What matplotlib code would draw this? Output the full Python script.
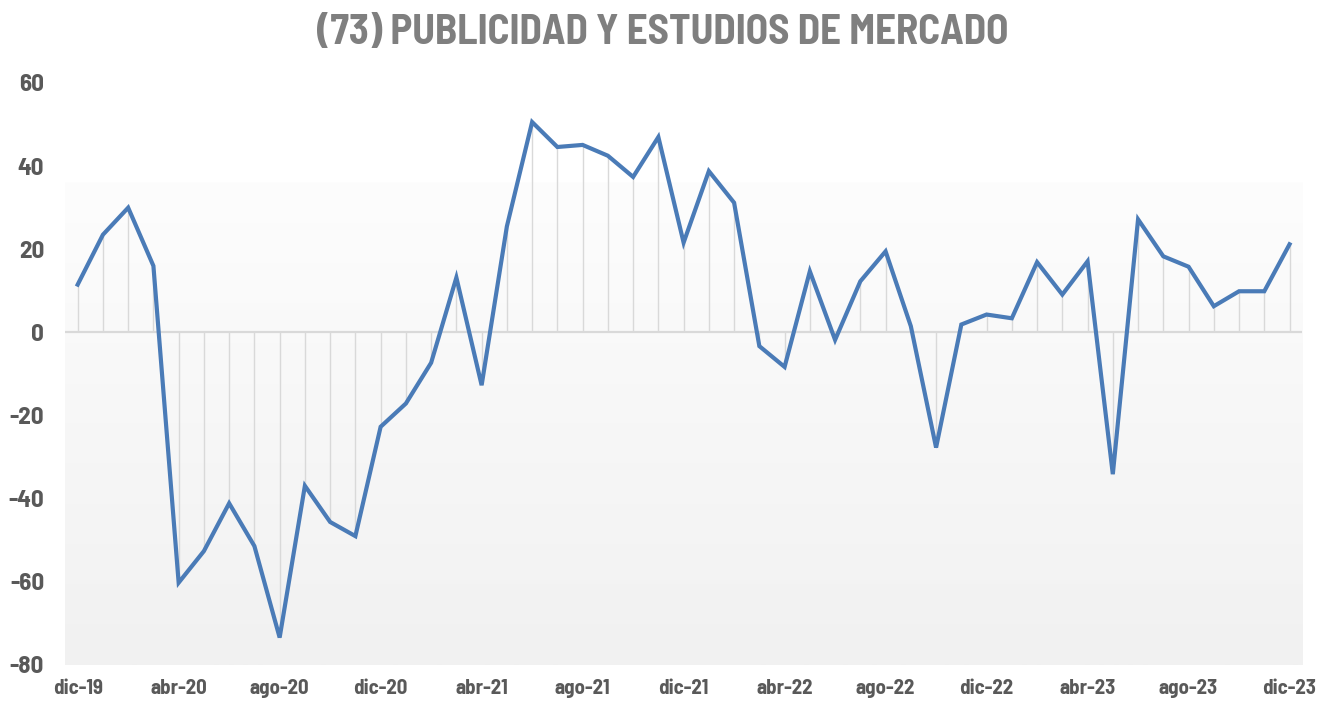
import numpy as np
import matplotlib
matplotlib.use("Agg")
import matplotlib.pyplot as plt
from matplotlib.colors import LinearSegmentedColormap

# ── data: monthly values, dic-19 .. dic-23 ─────────────────────────
values = [
    11.5, 23.5, 30.0, 16.0, -60.2, -52.6, -41.1, -51.4, -73.4, -36.9,
    -45.6, -49.0, -22.7, -17.1, -7.3, 13.2, -12.7, 25.5, 50.6, 44.6,
    45.1, 42.5, 37.4, 47.0, 21.6, 38.8, 31.2, -3.3, -8.3, 14.7,
    -1.8, 12.3, 19.5, 1.5, -27.7, 1.9, 4.3, 3.4, 16.9, 9.1,
    17.1, -34.1, 27.2, 18.3, 15.8, 6.3, 9.9, 9.9, 21.2,
]
tick_labels = ["dic-19", "abr-20", "ago-20", "dic-20", "abr-21", "ago-21",
               "dic-21", "abr-22", "ago-22", "dic-22", "abr-23", "ago-23", "dic-23"]
y_ticks = [60, 40, 20, 0, -20, -40, -60, -80]
title = "(73) PUBLICIDAD Y ESTUDIOS DE MERCADO"

# condensed bold face, close to Arial Narrow
FONT = ["Barlow Semi Condensed", "Archivo Narrow", "DejaVu Sans"]
plt.rcParams["font.family"] = FONT

x = np.arange(len(values))

fig = plt.figure(figsize=(13.22, 7.11), dpi=100)
ax = fig.add_axes([0.0492, 0.0647, 0.9358, 0.8186])
ax.set_xlim(-0.5, len(values) - 0.5)
ax.set_ylim(-80, 60)

# gradient background (white -> light gray)
cmap = LinearSegmentedColormap.from_list("bg", ["#fdfdfd", "#f1f1f1"])
grad = np.linspace(0, 1, 256).reshape(-1, 1)
ax.imshow(grad, cmap=cmap, aspect="auto", extent=(-0.5, len(values) - 0.5, -80, 36),
          origin="upper", zorder=0)

# drop lines + zero line
ax.vlines(x, 0, values, color="#d9d9d9", linewidth=1.0, zorder=1)
ax.axhline(0, color="#d9d9d9", linewidth=1.6, zorder=1)

ax.plot(x, values, color="#4a7bb7", linewidth=3.0, solid_joinstyle="miter", zorder=3)

for s in ax.spines.values():
    s.set_visible(False)

ax.set_yticks(y_ticks)
ax.set_yticklabels([str(v) for v in y_ticks])
ax.set_xticks(x[::4])
ax.set_xticklabels(tick_labels)
ax.tick_params(axis="both", length=0, colors="#595959")
ax.tick_params(axis="y", pad=15, labelsize=18)
ax.tick_params(axis="x", pad=10, labelsize=15)
for lbl in ax.get_xticklabels() + ax.get_yticklabels():
    lbl.set_fontweight("bold")

fig.text(0.501, 0.953, title, ha="center", va="center", fontsize=29.5,
         fontweight="bold", color="#7f7f7f")

fig.savefig("out.png", dpi=100)
